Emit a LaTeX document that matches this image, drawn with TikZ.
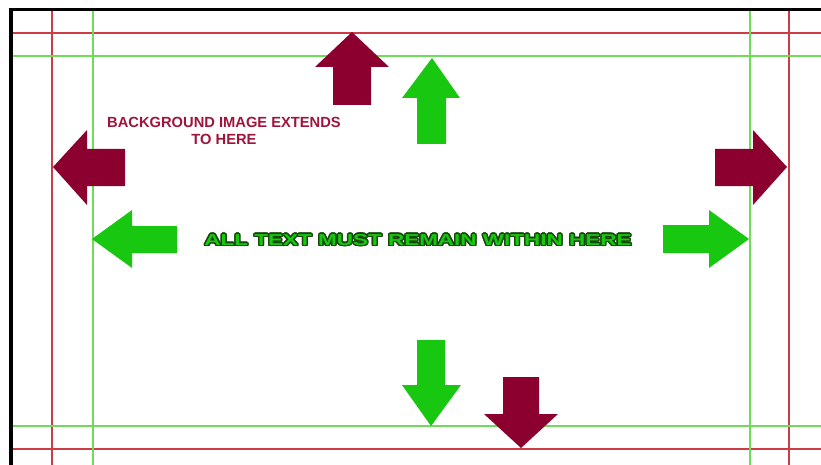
\documentclass[tikz,border=0pt]{standalone}
\usepackage{fontspec}
\setmainfont{Liberation Sans}
\usepackage{graphicx}
\definecolor{arrowred}{RGB}{140,0,48}
\definecolor{arrowgreen}{RGB}{24,200,16}
\definecolor{guidered}{RGB}{205,60,70}
\definecolor{guidegreen}{RGB}{110,220,90}
\definecolor{textred}{RGB}{160,20,60}
\definecolor{outlinegreen}{RGB}{25,70,15}
\newcommand{\maintext}[1]{\resizebox{427pt}{11pt}{\bfseries #1}}
\begin{document}
\begin{tikzpicture}[x=1pt,y=-1pt,
  guider/.style={draw=guidered,line width=1.3pt},
  guideg/.style={draw=guidegreen,line width=1.5pt},
  redarrow/.style={fill=arrowred},
  greenarrow/.style={fill=arrowgreen},
  labeltext/.style={inner sep=0pt,text=textred,font=\bfseries\fontsize{14.7}{16.5}\selectfont,align=center}]
\useasboundingbox (0,0) rectangle (821,465);
\fill[white] (0,0) rectangle (821,465);
% guide lines
\draw[guider] (13,33) -- (821,33);
\draw[guider] (13,449) -- (821,449);
\draw[guider] (52,11) -- (52,465);
\draw[guider] (789,11) -- (789,465);
\draw[guideg] (13,56) -- (821,56);
\draw[guideg] (13,426) -- (821,426);
\draw[guideg] (93,11) -- (93,465);
\draw[guideg] (750,11) -- (750,465);
% black border
\fill[black] (9,8) rectangle (821,11);
\fill[black] (9,8) rectangle (13,465);
% arrows
\fill[redarrow] (352,32) -- (389,67) -- (371,67) -- (371,105) -- (333,105) -- (333,67) -- (315,67) -- cycle;
\fill[greenarrow] (432,58) -- (460,98) -- (446,98) -- (446,144) -- (417,144) -- (417,98) -- (402,98) -- cycle;
\fill[greenarrow] (431,426) -- (461,385) -- (445,385) -- (445,340) -- (417,340) -- (417,385) -- (402,385) -- cycle;
\fill[redarrow] (521,448) -- (558,414) -- (539,414) -- (539,377) -- (503,377) -- (503,414) -- (484,414) -- cycle;
\fill[redarrow] (53,167) -- (87,130) -- (87,149) -- (125,149) -- (125,186) -- (87,186) -- (87,205) -- cycle;
\fill[greenarrow] (92,239) -- (132,210) -- (132,226) -- (177,226) -- (177,253) -- (132,253) -- (132,268) -- cycle;
\fill[redarrow] (787,167) -- (753,130) -- (753,149) -- (715,149) -- (715,186) -- (753,186) -- (753,205) -- cycle;
\fill[greenarrow] (749,239) -- (709,210) -- (709,225) -- (663,225) -- (663,253) -- (709,253) -- (709,268) -- cycle;
% labels
\node[labeltext] (bg) at (224,131) {BACKGROUND IMAGE EXTENDS\\TO HERE};
\foreach \a in {0,30,...,330}
  \node[inner sep=0pt,text=outlinegreen,shift={(\a:1.5)}] (o\a) at (418,240) {\maintext{ALL TEXT MUST REMAIN WITHIN HERE}};
\node[inner sep=0pt,text=arrowgreen] (main) at (418,240) {\maintext{ALL TEXT MUST REMAIN WITHIN HERE}};
\end{tikzpicture}
\end{document}
